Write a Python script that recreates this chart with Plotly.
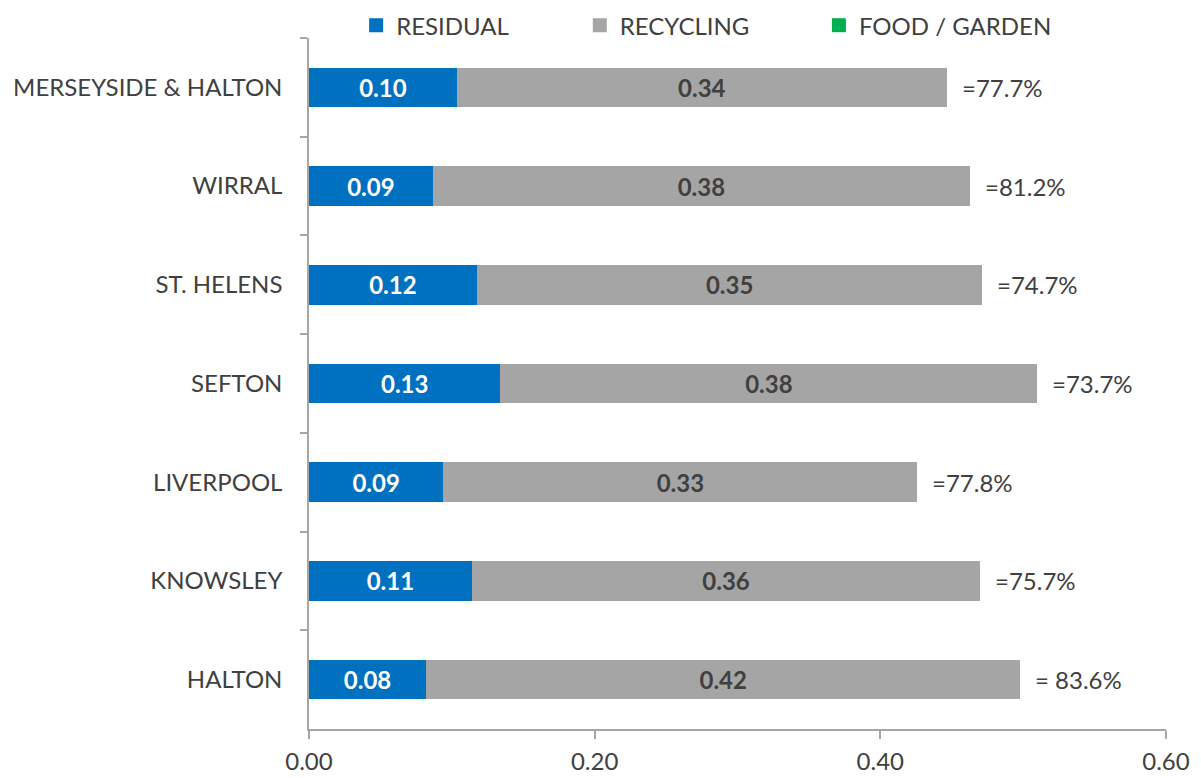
import plotly.graph_objects as go

# Areas, listed from top of the chart to bottom
areas = ["MERSEYSIDE & HALTON", "WIRRAL", "ST. HELENS", "SEFTON",
         "LIVERPOOL", "KNOWSLEY", "HALTON"]
residual = [0.1035, 0.0867, 0.1175, 0.134, 0.094, 0.114, 0.082]
recycling = [0.343, 0.376, 0.354, 0.376, 0.332, 0.356, 0.416]
food_garden = [0, 0, 0, 0, 0, 0, 0]
share_labels = ["=77.7%", "=81.2%", "=74.7%", "=73.7%", "=77.8%", "=75.7%", "= 83.6%"]
x_ticks = [0.0, 0.2, 0.4, 0.6]

series_names = ["RESIDUAL", "RECYCLING", "FOOD / GARDEN"]
series_colors = ["#0070C0", "#A5A5A5", "#00B050"]
label_colors = ["white", "#404040", "#404040"]
legend_x = [0.055, 0.316, 0.595]

FONT = "Lato"
SIZE = 24
TEXT_GREY = "#404040"
AXIS_GREY = "#A6A6A6"

fig = go.Figure()
for i, (name, vals) in enumerate(zip(series_names, [residual, recycling, food_garden])):
    fig.add_trace(go.Bar(
        name=name, y=areas, x=vals, orientation="h",
        marker=dict(color=series_colors[i], line=dict(width=0)),
        texttemplate="<b>%{x:.2f}</b>" if any(vals) else None,
        textposition="inside" if any(vals) else "none",
        insidetextanchor="middle", textangle=0,
        textfont=dict(family=FONT, size=SIZE, color=label_colors[i]),
        showlegend=False,
    ))

# Legend keys: one square swatch per series, each in its own legend box
legend_ids = ["legend", "legend2", "legend3"]
for i, name in enumerate(series_names):
    fig.add_trace(go.Scatter(
        x=[None], y=[None], mode="markers", name=name,
        marker=dict(symbol="square", size=14, color=series_colors[i]),
        legend=legend_ids[i], showlegend=True,
    ))

# Share labels just beyond the end of each stacked bar
for area, r, c, f, lab in zip(areas, residual, recycling, food_garden, share_labels):
    fig.add_annotation(
        x=r + c + f, y=area, text=lab, showarrow=False,
        xanchor="left", xshift=13,
        font=dict(family=FONT, size=SIZE, color=TEXT_GREY),
    )

legend_common = dict(
    orientation="h", xanchor="left",
    yref="container", y=0.996, yanchor="top",
    font=dict(family=FONT, size=SIZE, color=TEXT_GREY),
    itemclick=False, itemdoubleclick=False,
    bgcolor="rgba(0,0,0,0)",
)

fig.update_layout(
    barmode="stack",
    bargap=0.6,
    width=1201, height=778,
    margin=dict(l=309, r=35, t=38, b=49, autoexpand=False),
    paper_bgcolor="white", plot_bgcolor="white",
    font=dict(family=FONT, size=SIZE, color=TEXT_GREY),
    showlegend=True,
    legend=dict(x=legend_x[0], **legend_common),
    legend2=dict(x=legend_x[1], **legend_common),
    legend3=dict(x=legend_x[2], **legend_common),
    xaxis=dict(
        range=[0, 0.6], tickvals=x_ticks, tickformat=".2f",
        showgrid=False, zeroline=False,
        showline=True, linecolor=AXIS_GREY, linewidth=1.5,
        ticks="outside", ticklen=8, tickcolor=AXIS_GREY, tickwidth=1.5,
        ticklabelstandoff=2,
        tickfont=dict(family=FONT, size=SIZE, color=TEXT_GREY),
    ),
    yaxis=dict(
        autorange="reversed", type="category",
        showgrid=False, zeroline=False,
        showline=True, linecolor=AXIS_GREY, linewidth=1.5,
        ticks="outside", ticklen=7, tickcolor=AXIS_GREY, tickwidth=1.5,
        tickson="boundaries",
        ticklabelstandoff=20,
        tickfont=dict(family=FONT, size=SIZE, color=TEXT_GREY),
    ),
)

fig.write_html("out.html")
